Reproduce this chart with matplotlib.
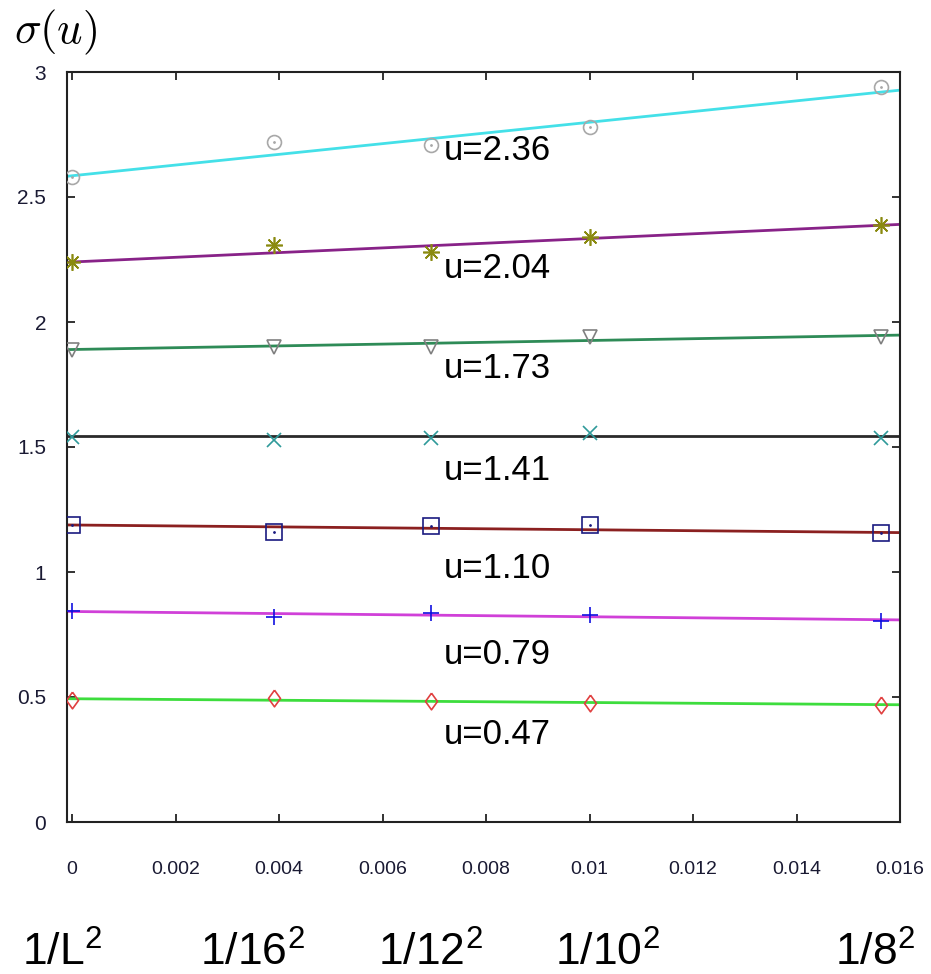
import numpy as np
import matplotlib
matplotlib.use("Agg")
import matplotlib.pyplot as plt

plt.rcParams["font.family"] = ["Liberation Sans", "DejaVu Sans"]

# inverse squared lattice sizes: 1/L^2 -> 0, 1/16^2, 1/12^2, 1/10^2, 1/8^2
inv_L2 = [0.0, 1 / 16**2, 1 / 12**2, 1 / 10**2, 1 / 8**2]

u_labels = ["u=2.36", "u=2.04", "u=1.73", "u=1.41", "u=1.10", "u=0.79", "u=0.47"]

sigma_236 = [2.58, 2.72, 2.71, 2.78, 2.94]
sigma_204 = [2.24, 2.31, 2.28, 2.34, 2.39]
sigma_173 = [1.89, 1.90, 1.90, 1.94, 1.94]
sigma_141 = [1.54, 1.53, 1.535, 1.555, 1.535]
sigma_110 = [1.19, 1.16, 1.185, 1.19, 1.155]
sigma_079 = [0.845, 0.82, 0.836, 0.828, 0.805]
sigma_047 = [0.49, 0.495, 0.485, 0.477, 0.47]

# straight-line extrapolations in 1/L^2: intercept and slope
fit_intercept = [2.585, 2.24, 1.89, 1.545, 1.188, 0.842, 0.493]
fit_slope = [21.4, 9.4, 3.6, 0.0, -1.9, -2.1, -1.5]

# label anchor (x, y) in data units
label_x = [0.00718] * 7
label_y = [2.688, 2.216, 1.816, 1.408, 1.016, 0.668, 0.348]

tall_diamond = [(0, 1), (0.72, 0), (0, -1), (-0.72, 0), (0, 1)]

series = [sigma_236, sigma_204, sigma_173, sigma_141, sigma_110, sigma_079, sigma_047]
markers = ["o", (8, 2, 0), "v", "x", "s", "+", tall_diamond]
marker_sizes = [10, 12, 10, 10, 11, 11, 12]
marker_filled = [False, True, False, True, False, True, False]
center_dot = [True, False, False, False, True, False, False]
marker_colors = ["#a8a8a8", "#8a8a10", "#808080", "#2f9a9a", "#1a1a80", "#1010e0", "#e04040"]
line_colors = ["#44e0e8", "#882288", "#2e8b57", "#2a2a2a", "#8b2020", "#d040d8", "#3ddd3d"]

bottom_labels = ["1/L", "1/16", "1/12", "1/10", "1/8"]
bottom_label_px = [22, 200, 378, 555, 835]

W, H = 931, 974
fig = plt.figure(figsize=(W / 100, H / 100), dpi=100)
ax = fig.add_axes([67 / W, 1 - 822 / H, (900 - 67) / W, (822 - 72) / H])

xmin, xmax = -0.0001, 0.016
xs = np.array([xmin, xmax])
for vals, m, ms, filled, dot, mc, lc, b, s in zip(series, markers, marker_sizes,
                                                  marker_filled, center_dot,
                                                  marker_colors, line_colors,
                                                  fit_intercept, fit_slope):
    ax.plot(xs, b + s * xs, color=lc, lw=2.0, zorder=2)
    ax.plot(inv_L2, vals, linestyle="none", marker=m, markersize=ms,
            markerfacecolor=mc if filled else "none", markeredgecolor=mc,
            markeredgewidth=1.2, zorder=3)
    if dot:
        ax.plot(inv_L2, vals, linestyle="none", marker=".", markersize=2,
                color=mc, zorder=3)

for txt, lx, ly in zip(u_labels, label_x, label_y):
    ax.text(lx, ly, txt, fontsize=25, ha="left", va="center", color="black", zorder=4)

ax.set_xlim(xmin, xmax)
ax.set_ylim(0, 3)
ax.set_xticks(np.arange(0, 0.0161, 0.002))
ax.set_xticklabels(["0", "0.002", "0.004", "0.006", "0.008", "0.01", "0.012", "0.014", "0.016"])
ax.set_yticks(np.arange(0, 3.01, 0.5))
ax.set_yticklabels(["0", "0.5", "1", "1.5", "2", "2.5", "3"])
ax.tick_params(direction="in", length=6, width=1.3, top=True, right=True,
               labelcolor="#1a1a33", color="#222222")
ax.tick_params(axis="x", pad=28, labelsize=14)
ax.tick_params(axis="y", pad=15, labelsize=15)
for sp in ax.spines.values():
    sp.set_linewidth(1.5)
    sp.set_color("#222222")

fig.text(14 / W, 1 - 32 / H, r"$\sigma(u)$", fontsize=32, ha="left", va="center",
         math_fontfamily="cm")

for txt, px in zip(bottom_labels, bottom_label_px):
    fig.text(px / W, 1 - 966 / H, txt + r"$\mathregular{^2}$", fontsize=32,
             ha="left", va="baseline")

fig.savefig("out.png", dpi=100)
